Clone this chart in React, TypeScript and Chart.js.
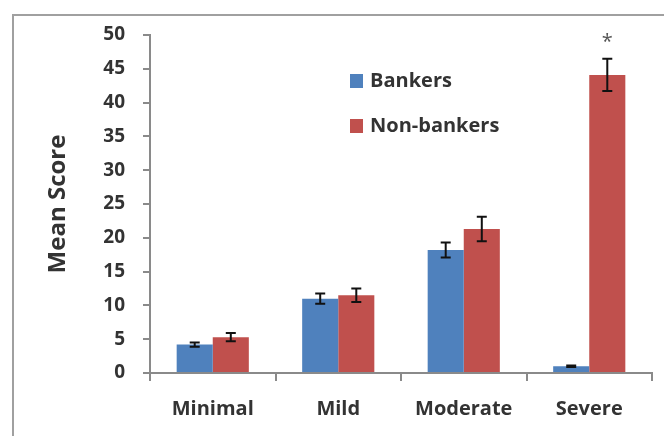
import React, { useEffect, useRef } from 'react';
import { Chart, registerables } from 'chart.js';

Chart.register(...registerables);

const categories = ['Minimal', 'Mild', 'Moderate', 'Severe'];
const seriesNames = ['Bankers', 'Non-bankers'];
const bankers = [4.2, 11.0, 18.2, 1.0];
const bankersErr = [0.3, 0.75, 1.1, 0.1];
const nonBankers = [5.3, 11.5, 21.3, 44.1];
const nonBankersErr = [0.6, 1.0, 1.8, 2.4];
const yTicks = [0, 5, 10, 15, 20, 25, 30, 35, 40, 45, 50];
const significance = ['', '', '', '*'];

const BLUE = '#4F81BD';
const RED = '#C0504D';
const AXIS = '#8a8a8a';
const FONT = "'Open Sans', 'DejaVu Sans', sans-serif";
const TEXT = '#333333';

export default function App() {
  const ref = useRef<HTMLCanvasElement>(null);

  useEffect(() => {
    document.body.style.margin = '0';
    const errors = [bankersErr, nonBankersErr];

    const framePlugin = {
      id: 'frame',
      beforeDraw(chart: any) {
        const ctx = chart.ctx;
        ctx.save();
        ctx.fillStyle = '#ffffff';
        ctx.fillRect(0, 0, chart.width, chart.height);
        ctx.strokeStyle = '#a0a0a0';
        ctx.lineWidth = 2;
        ctx.strokeRect(13, 15, chart.width + 20, chart.height + 20);
        ctx.restore();
      },
    };

    const errorBarPlugin = {
      id: 'errorBars',
      afterDatasetsDraw(chart: any) {
        const ctx = chart.ctx;
        const y = chart.scales.y;
        ctx.save();
        ctx.strokeStyle = '#111';
        ctx.lineWidth = 2;
        chart.data.datasets.forEach((ds: any, i: number) => {
          const meta = chart.getDatasetMeta(i);
          meta.data.forEach((el: any, j: number) => {
            const v = ds.data[j];
            const e = errors[i][j];
            const x = el.x;
            const yt = y.getPixelForValue(v + e);
            const yb = y.getPixelForValue(v - e);
            const cap = 5;
            ctx.beginPath();
            ctx.moveTo(x, yt);
            ctx.lineTo(x, yb);
            ctx.moveTo(x - cap, yt);
            ctx.lineTo(x + cap, yt);
            ctx.moveTo(x - cap, yb);
            ctx.lineTo(x + cap, yb);
            ctx.stroke();
          });
        });
        ctx.fillStyle = '#555';
        ctx.font = `20px ${FONT}`;
        ctx.textAlign = 'center';
        ctx.textBaseline = 'middle';
        const meta1 = chart.getDatasetMeta(1);
        significance.forEach((s, j) => {
          if (!s) return;
          const el = meta1.data[j];
          const top = y.getPixelForValue(nonBankers[j] + nonBankersErr[j]);
          ctx.fillText(s, el.x, top - 16);
        });
        ctx.restore();
      },
    };

    const legendPlugin = {
      id: 'customLegend',
      afterDraw(chart: any) {
        const ctx = chart.ctx;
        const area = chart.chartArea;
        ctx.save();
        const colors = [BLUE, RED];
        ctx.font = `bold 20px ${FONT}`;
        ctx.textBaseline = 'middle';
        ctx.textAlign = 'left';
        seriesNames.forEach((name, i) => {
          const sx = area.left + 200;
          const cy = area.top + 46 + i * 45;
          ctx.fillStyle = colors[i];
          ctx.fillRect(sx, cy - 7, 13, 14);
          ctx.fillStyle = TEXT;
          ctx.fillText(name, sx + 20, cy);
        });
        ctx.restore();
      },
    };

    const chart = new Chart(ref.current as HTMLCanvasElement, {
      type: 'bar',
      data: {
        labels: categories,
        datasets: [
          { label: seriesNames[0], data: bankers, backgroundColor: BLUE, categoryPercentage: 0.575, barPercentage: 1 },
          { label: seriesNames[1], data: nonBankers, backgroundColor: RED, categoryPercentage: 0.575, barPercentage: 1 },
        ],
      },
      options: {
        responsive: false,
        animation: false,
        layout: { padding: { top: 35, right: 12, left: 0, bottom: 0 } },
        plugins: { legend: { display: false }, tooltip: { enabled: false } },
        scales: {
          x: {
            grid: { display: true, drawOnChartArea: false, offset: true, tickLength: 8, color: AXIS, lineWidth: 2 },
            border: { display: true, color: AXIS, width: 2 },
            ticks: { color: TEXT, font: { family: FONT, size: 20, weight: 'bold' }, padding: 16 },
            afterFit(scale: any) { scale.height = 63; },
          },
          y: {
            min: 0,
            max: 50,
            afterBuildTicks(scale: any) { scale.ticks = yTicks.map((v) => ({ value: v })); },
            grid: { display: true, drawOnChartArea: false, tickLength: 7, color: AXIS, lineWidth: 2 },
            border: { display: true, color: AXIS, width: 2 },
            ticks: { color: TEXT, font: { family: FONT, size: 19, weight: 'bold' }, padding: 18 },
            title: { display: true, text: 'Mean Score', color: TEXT, font: { family: FONT, size: 24, weight: 'bold' }, padding: { top: 44, bottom: 0 } },
            afterFit(scale: any) { scale.width = 150; },
          },
        },
      },
      plugins: [framePlugin, errorBarPlugin, legendPlugin],
    });
    return () => chart.destroy();
  }, []);

  return (
    <div style={{ width: 664, height: 436 }}>
      <canvas ref={ref} width={664} height={436} />
    </div>
  );
}
